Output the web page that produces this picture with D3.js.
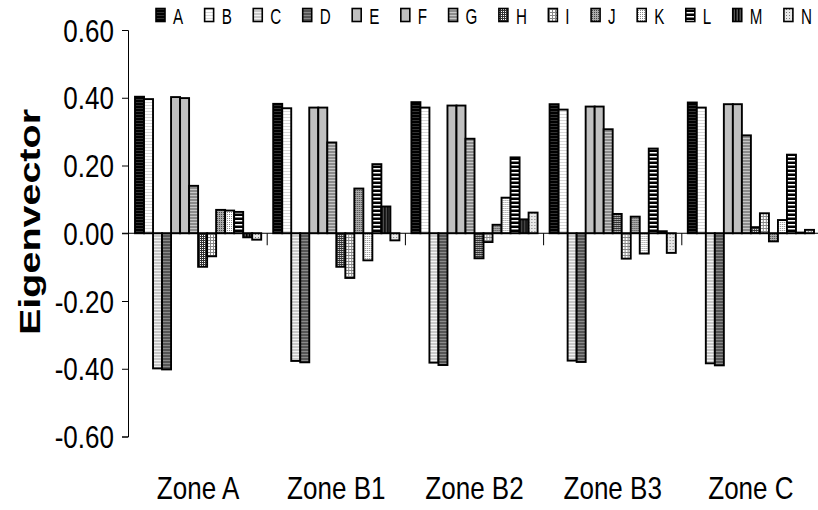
<!DOCTYPE html>
<html><head><meta charset="utf-8">
<script src="https://cdn.jsdelivr.net/npm/d3@7"></script>
<style>body{margin:0;background:#fff}svg{display:block}text{font-family:"Liberation Sans",Arial,sans-serif;fill:#000}</style>
</head><body><svg id="c" width="818" height="510"></svg>
<script>
const zones = ["Zone A","Zone B1","Zone B2","Zone B3","Zone C"];
const seriesNames = ["A","B","C","D","E","F","G","H","I","J","K","L","M","N"];
const zoneA  = [0.403,0.396,-0.399,-0.402,0.402,0.399,0.140,-0.099,-0.068,0.069,0.067,0.063,-0.012,-0.019];
const zoneB1 = [0.382,0.369,-0.377,-0.381,0.371,0.371,0.268,-0.099,-0.132,0.132,-0.080,0.204,0.079,-0.021];
const zoneB2 = [0.387,0.371,-0.382,-0.389,0.377,0.377,0.279,-0.074,-0.026,0.025,0.105,0.224,0.041,0.061];
const zoneB3 = [0.381,0.365,-0.376,-0.380,0.374,0.374,0.307,0.057,-0.075,0.049,-0.060,0.250,0.006,-0.058];
const zoneC  = [0.386,0.371,-0.384,-0.390,0.381,0.381,0.289,0.018,0.059,-0.024,0.039,0.232,0.002,0.010];
const yTicks = [-0.6,-0.4,-0.2,0,0.2,0.4,0.6];
const yTitle = "Eigenvector";

const zoneValues = [zoneA, zoneB1, zoneB2, zoneB3, zoneC];
const svg = d3.select("#c");
const defs = svg.append("defs");
const SX = 0.84;
const fmt = d => d3.format(".2f")(d).replace("\u2212","-");

// patterns
function stripesH(id, bg, fg, period, thick){
  const p = defs.append("pattern").attr("id",id).attr("patternUnits","userSpaceOnUse").attr("width",4).attr("height",period);
  p.append("rect").attr("width",4).attr("height",period).attr("fill",bg);
  p.append("rect").attr("y",0).attr("width",4).attr("height",thick).attr("fill",fg);
}
function stripesV(id, bg, fg, period, thick){
  const p = defs.append("pattern").attr("id",id).attr("patternUnits","userSpaceOnUse").attr("width",period).attr("height",4);
  p.append("rect").attr("width",period).attr("height",4).attr("fill",bg);
  p.append("rect").attr("x",0).attr("width",thick).attr("height",4).attr("fill",fg);
}
function dots(id, bg, fg, period){
  const p = defs.append("pattern").attr("id",id).attr("patternUnits","userSpaceOnUse").attr("width",period).attr("height",period);
  p.append("rect").attr("width",period).attr("height",period).attr("fill",bg);
  p.append("rect").attr("width",1).attr("height",1).attr("fill",fg);
  if(period>=4) p.append("rect").attr("x",period/2).attr("y",period/2).attr("width",1).attr("height",1).attr("fill",fg);
}
function grid(id, bg, fg, period){
  const p = defs.append("pattern").attr("id",id).attr("patternUnits","userSpaceOnUse").attr("width",period).attr("height",period);
  p.append("rect").attr("width",period).attr("height",period).attr("fill",bg);
  p.append("rect").attr("width",period).attr("height",1).attr("fill",fg);
  p.append("rect").attr("width",1).attr("height",period).attr("fill",fg);
}
stripesH("pA","#000","#333",3,1);
stripesH("pB","#fff","#d8d8d8",3,1);
stripesH("pC","#c8c8c8","#f2f2f2",3,1);
stripesH("pD","#555","#8a8a8a",3,1);
defs.append("pattern").attr("id","pE").attr("patternUnits","userSpaceOnUse").attr("width",2).attr("height",2).append("rect").attr("width",2).attr("height",2).attr("fill","#c0c0c0");
defs.append("pattern").attr("id","pF").attr("patternUnits","userSpaceOnUse").attr("width",2).attr("height",2).append("rect").attr("width",2).attr("height",2).attr("fill","#c0c0c0");
stripesH("pG","#8c8c8c","#c8c8c8",3,1);
grid("pH","#fff","#333",2);
grid("pI","#fff","#888",3);
dots("pJ","#aaa","#444",2);
dots("pK","#fff","#888",2);
stripesH("pL","#000","#fff",4,1.5);
stripesV("pM","#555","#000",3,1.5);
dots("pN","#e8e8e8","#777",3);
const fills = seriesNames.map(s => "url(#p"+s+")");

// scales
const x0 = d3.scaleBand().domain(zones).range([129, 820]).padding(0);
const x1 = d3.scaleBand().domain(seriesNames).range([6, x0.bandwidth()-6]).padding(0);
const y = d3.scaleLinear().domain([-0.6, 0.6]).range([436.5, 30]);

// bars
const groups = svg.append("g").selectAll("g").data(zones).join("g")
  .attr("transform", d => `translate(${x0(d)},0)`);
groups.selectAll("rect").data((z,i) => zoneValues[i].map((v,j)=>({s:seriesNames[j], v, j})))
  .join("rect")
  .attr("x", d => x1(d.s)).attr("width", x1.bandwidth())
  .attr("y", d => y(Math.max(0,d.v))).attr("height", d => Math.abs(y(d.v)-y(0)))
  .attr("fill", d => fills[d.j]).attr("stroke","#000").attr("stroke-width",1.9);

// y axis
const yAxis = d3.axisLeft(y).tickValues(yTicks).tickSize(6).tickFormat(fmt);
const ya = svg.append("g").attr("transform","translate(128,0)").call(yAxis);
ya.select(".domain").attr("stroke","#000").attr("stroke-width",1);
ya.selectAll(".tick line").attr("stroke","#000");
ya.selectAll(".tick text").remove();
ya.selectAll(".tick").append("g").attr("transform","translate(-14,0) scale("+SX+",1)")
  .append("text").attr("text-anchor","end").attr("dy","0.36em").attr("font-size",31).text(fmt);

// x axis at zero
const xa = svg.append("g").attr("transform",`translate(0,${y(0)})`);
xa.append("line").attr("x1",122).attr("x2",818).attr("stroke","#000").attr("stroke-width",1);
xa.selectAll("line.tk").data(zones.slice(1)).join("line").attr("class","tk")
  .attr("x1",d=>x0(d)).attr("x2",d=>x0(d)).attr("y1",0).attr("y2",12).attr("stroke","#000");

// category labels
svg.append("g").selectAll("g").data(zones).join("g")
  .attr("transform", d => `translate(${x0(d)+x0.bandwidth()/2},499) scale(${SX},1)`)
  .append("text").attr("text-anchor","middle").attr("font-size",31).text(d=>d);

// y title
svg.append("text").attr("transform","translate(40,222) rotate(-90)")
  .attr("text-anchor","middle").attr("font-weight","bold").attr("font-size",29)
  .attr("textLength",226).attr("lengthAdjust","spacingAndGlyphs").text(yTitle);

// legend
const lg = svg.append("g");
let lx = 156;
seriesNames.forEach((s,i) => {
  lg.append("rect").attr("x",lx).attr("y",8.5).attr("width",9).attr("height",13)
    .attr("fill",fills[i]).attr("stroke","#000").attr("stroke-width",1.6);
  const g = lg.append("g").attr("transform",`translate(${lx+17},23.5) scale(0.69,1)`);
  const t = g.append("text").attr("font-size",22).text(s);
  const w = t.node().getComputedTextLength()*0.69;
  lx += 17 + w + 21.5;
});
</script></body></html>
